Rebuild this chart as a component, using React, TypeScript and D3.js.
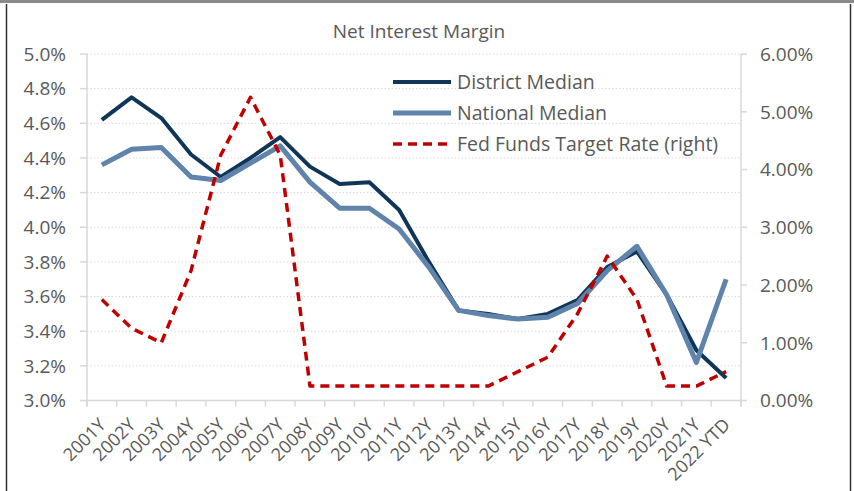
import React from "react";
import * as d3 from "d3";

// valores
const years = [
  "2001Y", "2002Y", "2003Y", "2004Y", "2005Y", "2006Y", "2007Y", "2008Y", "2009Y", "2010Y", "2011Y",
  "2012Y", "2013Y", "2014Y", "2015Y", "2016Y", "2017Y", "2018Y", "2019Y", "2020Y", "2021Y", "2022 YTD",
];
const districtMedian = [4.62, 4.75, 4.63, 4.42, 4.29, 4.40, 4.52, 4.35, 4.25, 4.26, 4.10, 3.80, 3.52, 3.50, 3.47, 3.50, 3.58, 3.77, 3.86, 3.61, 3.29, 3.13];
const nationalMedian = [4.36, 4.45, 4.46, 4.29, 4.27, 4.37, 4.47, 4.26, 4.11, 4.11, 3.99, 3.77, 3.52, 3.49, 3.47, 3.48, 3.56, 3.75, 3.89, 3.61, 3.22, 3.70];
const fedFunds = [1.75, 1.25, 1.0, 2.25, 4.25, 5.25, 4.25, 0.25, 0.25, 0.25, 0.25, 0.25, 0.25, 0.25, 0.5, 0.75, 1.5, 2.5, 1.75, 0.25, 0.25, 0.5];
const leftTicks = [3.0, 3.2, 3.4, 3.6, 3.8, 4.0, 4.2, 4.4, 4.6, 4.8, 5.0];
const rightTicks = [0, 1, 2, 3, 4, 5, 6];

const W = 854;
const H = 491;
const left = 87;
const right = 741;
const top = 54;
const bottom = 400.5;
const FONT = "'Open Sans', 'Noto Sans', sans-serif";
const TXT = "#595959";
const GRID = "#d9d9d9";

export default function App() {
  const x = d3.scaleBand<string>().domain(years).range([left, right]);
  const cx = (d: string) => x(d)! + x.bandwidth() / 2;
  const yL = d3.scaleLinear().domain([3.0, 5.0]).range([bottom, top]);
  const yR = d3.scaleLinear().domain([0, 6]).range([bottom, top]);

  const lineL = d3.line<number>().x((_, i) => cx(years[i])).y(d => yL(d));
  const lineR = d3.line<number>().x((_, i) => cx(years[i])).y(d => yR(d));

  const bounds = years.map(d => x(d)!).concat([right]);

  const legend = [
    { label: "District Median", color: "#0f3557", width: 4, dash: undefined as string | undefined },
    { label: "National Median", color: "#5f83aa", width: 5, dash: undefined },
    { label: "Fed Funds Target Rate (right)", color: "#c00000", width: 3.5, dash: "9,6" },
  ];

  return (
    <svg width={W} height={H} style={{ position: "absolute", left: 0, top: 0, background: "#fff" }} fontFamily={FONT}>
      {/* marco */}
      <line x1={0} x2={W} y1={1.5} y2={1.5} stroke="#8a8a8a" strokeWidth={3} />
      <line x1={6.5} x2={6.5} y1={4} y2={H} stroke="#333" strokeWidth={1.5} />
      <line x1={850.5} x2={850.5} y1={4} y2={H} stroke="#333" strokeWidth={1.5} />

      <text x={419} y={38} textAnchor="middle" fontSize={19} fill={TXT}>Net Interest Margin</text>

      {/* rejilla */}
      {leftTicks.filter(t => t > 3.0).map(t => (
        <line key={t} x1={left} x2={right} y1={yL(t)} y2={yL(t)} stroke={GRID} strokeWidth={1} strokeDasharray="1.5,2" />
      ))}

      {/* eje izquierdo */}
      <line x1={left} x2={left} y1={top} y2={bottom + 6} stroke={GRID} strokeWidth={1.5} />
      {leftTicks.map(t => (
        <g key={t}>
          <line x1={left - 7} x2={left} y1={yL(t)} y2={yL(t)} stroke={GRID} strokeWidth={1.5} />
          <text x={66} y={yL(t)} dy="0.36em" textAnchor="end" fontSize={19} fill={TXT}>{t.toFixed(1)}%</text>
        </g>
      ))}

      {/* eje derecho */}
      <line x1={right} x2={right} y1={top} y2={bottom + 6} stroke={GRID} strokeWidth={1.5} />
      {rightTicks.map(t => (
        <g key={t}>
          <line x1={right} x2={right + 6} y1={yR(t)} y2={yR(t)} stroke={GRID} strokeWidth={1.5} />
          <text x={760} y={yR(t)} dy="0.36em" textAnchor="start" fontSize={19} fill={TXT}>{t.toFixed(2)}%</text>
        </g>
      ))}

      {/* eje x */}
      <line x1={left} x2={right} y1={bottom} y2={bottom} stroke={GRID} strokeWidth={1.5} />
      {bounds.map((b, i) => (
        <line key={i} x1={b} x2={b} y1={bottom} y2={bottom + 6} stroke={GRID} strokeWidth={1.5} />
      ))}
      {years.map(d => (
        <text key={d} transform={`translate(${cx(d) + 5},${426}) rotate(-45)`} textAnchor="end" fontSize={18} fill={TXT}>{d}</text>
      ))}

      {/* series */}
      <path d={lineL(districtMedian) ?? ""} fill="none" stroke={legend[0].color} strokeWidth={4} strokeLinejoin="round" />
      <path d={lineL(nationalMedian) ?? ""} fill="none" stroke={legend[1].color} strokeWidth={5} strokeLinejoin="round" />
      <path d={lineR(fedFunds) ?? ""} fill="none" stroke={legend[2].color} strokeWidth={3.5} strokeDasharray="9,6" strokeLinejoin="round" />

      {/* leyenda */}
      {legend.map((l, i) => {
        const ly = 82 + i * 31;
        return (
          <g key={l.label}>
            <line x1={393} x2={451} y1={ly} y2={ly} stroke={l.color} strokeWidth={l.width} strokeDasharray={l.dash} />
            <text x={457} y={ly} dy="0.36em" fontSize={19.5} fill={TXT}>{l.label}</text>
          </g>
        );
      })}
    </svg>
  );
}
